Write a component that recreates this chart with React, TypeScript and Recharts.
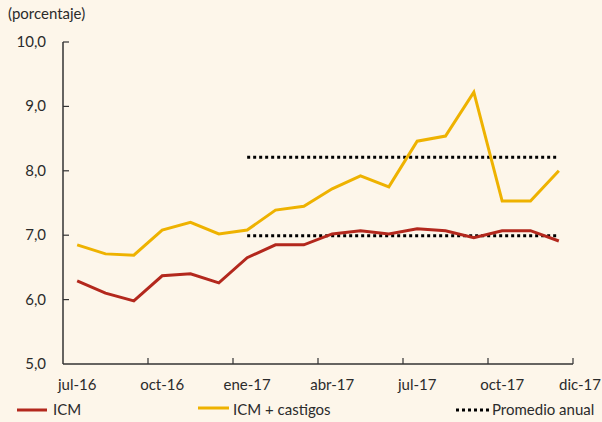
import { Line, LineChart, XAxis, YAxis } from "recharts";

const months = [
  "jul-16", "ago-16", "sep-16", "oct-16", "nov-16", "dic-16",
  "ene-17", "feb-17", "mar-17", "abr-17", "may-17", "jun-17",
  "jul-17", "ago-17", "sep-17", "oct-17", "nov-17", "dic-17",
];
const icm = [6.29, 6.1, 5.98, 6.37, 6.4, 6.26, 6.65, 6.85, 6.85, 7.02, 7.07, 7.02, 7.1, 7.07, 6.96, 7.07, 7.07, 6.91];
const icmCastigos = [6.85, 6.71, 6.69, 7.08, 7.2, 7.02, 7.08, 7.39, 7.45, 7.72, 7.92, 7.75, 8.46, 8.54, 9.22, 7.53, 7.53, 8.0];
const promedioIcm = [null, null, null, null, null, null, 6.99, 6.99, 6.99, 6.99, 6.99, 6.99, 6.99, 6.99, 6.99, 6.99, 6.99, 6.99];
const promedioCastigos = [null, null, null, null, null, null, 8.21, 8.21, 8.21, 8.21, 8.21, 8.21, 8.21, 8.21, 8.21, 8.21, 8.21, 8.21];
const yTicks = [5, 6, 7, 8, 9, 10];
const labelMonths = ["jul-16", "oct-16", "ene-17", "abr-17", "jul-17", "oct-17", "dic-17"];

const data = months.map((m, i) => ({
  month: m,
  icm: icm[i],
  castigos: icmCastigos[i],
  promIcm: promedioIcm[i],
  promCastigos: promedioCastigos[i],
}));

const BG = "#FDF6EA";
const RED = "#B3281D";
const YELLOW = "#EEB200";
const TEXT = "#2b2b2b";
const AXIS = "#333";
const FONT = "Lato, 'Open Sans', sans-serif";

const LEFT = 63;
const RIGHT = 573;
const TOP = 42;
const BOTTOM = 364;
const BAND = (RIGHT - LEFT) / months.length;

function YTick({ x, y, payload }: any) {
  return (
    <g>
      {payload.value > 5 ? (
        <line x1={x} x2={x + 6} y1={y} y2={y} stroke={AXIS} strokeWidth={1.2} />
      ) : null}
      <text x={x - 17} y={y + 5} textAnchor="end" fontSize={15} fill={TEXT} fontFamily={FONT}>
        {payload.value.toFixed(1).replace(".", ",")}
      </text>
    </g>
  );
}

function XTick({ x, y, payload, index }: any) {
  const last = index === months.length - 1;
  const showLabel = labelMonths.includes(payload.value);
  return (
    <g>
      {index % 3 === 0 && index > 0 ? (
        <line x1={x - BAND / 2} x2={x - BAND / 2} y1={y} y2={y - 6} stroke={AXIS} strokeWidth={1.2} />
      ) : null}
      {last ? (
        <line x1={x + BAND / 2} x2={x + BAND / 2} y1={y} y2={y - 6} stroke={AXIS} strokeWidth={1.2} />
      ) : null}
      {showLabel ? (
        <text
          x={last ? 601 : x}
          y={y + 26}
          textAnchor={last ? "end" : "middle"}
          fontSize={15}
          fill={TEXT}
          fontFamily={FONT}
        >
          {payload.value}
        </text>
      ) : null}
    </g>
  );
}

function LegendRow() {
  const t = { fontSize: 15, fill: TEXT, fontFamily: FONT };
  return (
    <svg width={602} height={24} style={{ position: "absolute", left: 0, top: 398 }}>
      <line x1={17} x2={47} y1={12} y2={12} stroke={RED} strokeWidth={3} />
      <text x={53} y={17} {...t}>ICM</text>
      <line x1={198} x2={229} y1={10} y2={10} stroke={YELLOW} strokeWidth={3} />
      <text x={233} y={17} {...t}>ICM + castigos</text>
      <line x1={456} x2={489} y1={12} y2={12} stroke="#000" strokeWidth={3} strokeDasharray="3 3" />
      <text x={492} y={17} {...t}>Promedio anual</text>
    </svg>
  );
}

export default function App() {
  return (
    <div style={{ position: "fixed", left: 0, top: 0, width: 602, height: 422, background: BG }}>
      <div style={{ position: "absolute", left: 8, top: 4, fontSize: 15, color: TEXT, fontFamily: FONT }}>
        (porcentaje)
      </div>
      <LineChart
        width={602}
        height={422}
        data={data}
        margin={{ top: TOP, right: 602 - RIGHT, bottom: 0, left: 0 }}
      >
        <XAxis
          dataKey="month"
          interval={0}
          tickSize={0}
          tickMargin={0}
          tickLine={false}
          height={422 - BOTTOM}
          padding={{ left: BAND / 2, right: BAND / 2 }}
          stroke={AXIS}
          strokeWidth={1.5}
          tick={<XTick />}
        />
        <YAxis
          domain={[5, 10]}
          ticks={yTicks}
          width={LEFT}
          tickSize={0}
          tickMargin={0}
          tickLine={false}
          stroke={AXIS}
          strokeWidth={1.5}
          tick={<YTick />}
          interval={0}
        />
        <Line dataKey="promCastigos" stroke="#000" strokeWidth={3} strokeDasharray="3 3" dot={false} isAnimationActive={false} />
        <Line dataKey="promIcm" stroke="#000" strokeWidth={3} strokeDasharray="3 3" dot={false} isAnimationActive={false} />
        <Line dataKey="castigos" stroke={YELLOW} strokeWidth={3} dot={false} isAnimationActive={false} />
        <Line dataKey="icm" stroke={RED} strokeWidth={3} dot={false} isAnimationActive={false} />
      </LineChart>
      <LegendRow />
    </div>
  );
}
